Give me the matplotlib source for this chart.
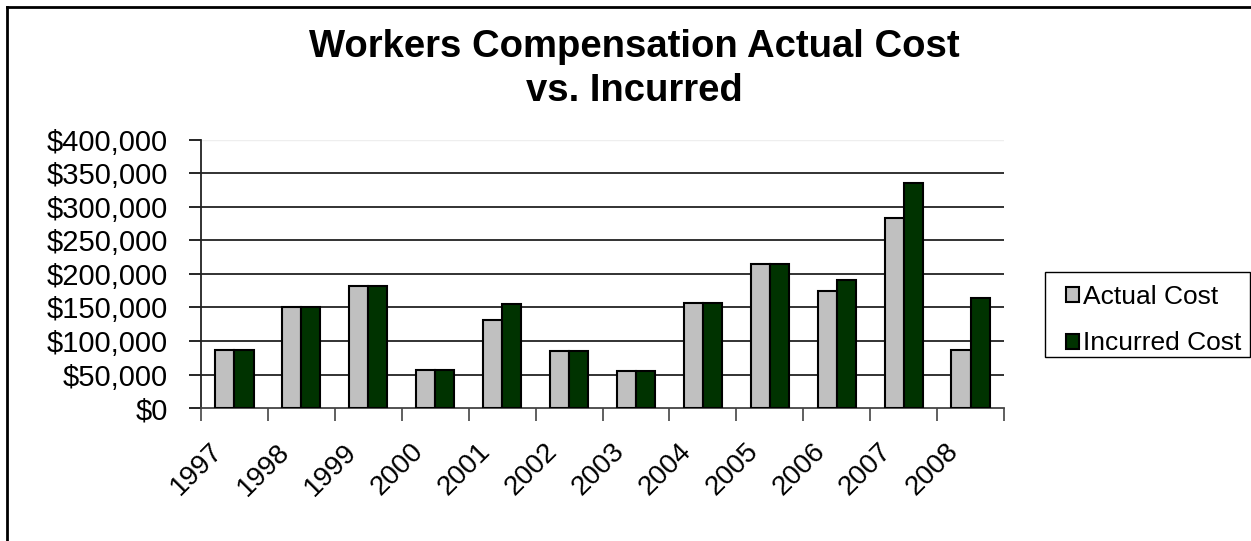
import matplotlib
matplotlib.use("Agg")
import matplotlib.pyplot as plt
from matplotlib.lines import Line2D
from matplotlib.patches import Rectangle
from matplotlib.ticker import FuncFormatter, FixedLocator
from matplotlib.transforms import ScaledTranslation
import numpy as np

years = ["1997", "1998", "1999", "2000", "2001", "2002", "2003", "2004",
         "2005", "2006", "2007", "2008"]
actual_cost = [87000, 150000, 181500, 57000, 130700, 85500, 55700, 156600,
               215000, 175000, 283000, 86500]
incurred_cost = [87000, 150000, 181500, 57000, 155600, 85500, 55700, 156600,
                 215000, 191000, 335500, 164000]
y_ticks = [0, 50000, 100000, 150000, 200000, 250000, 300000, 350000, 400000]

plt.rcParams['font.family'] = ['Liberation Sans', 'DejaVu Sans']

W, H = 1251, 541
fig = plt.figure(figsize=(W / 100, H / 100), dpi=100)
fig.patch.set_facecolor('white')

ax = fig.add_axes([201 / W, 1 - 408 / H, (1004 - 201) / W, (408 - 140) / H])

x = np.arange(len(years))
bw = 1 / 3.5
ax.bar(x - bw / 2, actual_cost, width=bw, color='#C0C0C0', edgecolor='black',
       linewidth=1.5, label='Actual Cost', zorder=3)
ax.bar(x + bw / 2, incurred_cost, width=bw, color='#003300', edgecolor='black',
       linewidth=1.5, label='Incurred Cost', zorder=3)

ax.set_xlim(-0.5, len(years) - 0.5)
ax.set_ylim(0, 400000)

for v in y_ticks[1:-1]:
    ax.axhline(v, color='#222222', linewidth=1.3, zorder=1)
ax.axhline(400000, color='#eeeeee', linewidth=1.0, zorder=1)

ax.yaxis.set_major_locator(FixedLocator(y_ticks))
ax.yaxis.set_major_formatter(FuncFormatter(lambda v, p: f"${int(v):,}"))
ax.tick_params(axis='y', direction='out', length=9, width=1.2, labelsize=21,
               pad=15, color='black')

# x: ticks at category boundaries, labels at centers
ax.set_xticks(np.arange(-0.5, len(years), 1.0))
ax.set_xticklabels([])
ax.set_xticks(x, minor=True)
ax.set_xticklabels(years, minor=True, rotation=45, ha='right', va='top',
                   rotation_mode='anchor', fontsize=20)
ax.tick_params(axis='x', which='major', direction='out', length=9, width=1.2,
               color='#444444')
ax.tick_params(axis='x', which='minor', length=0, pad=22)
shift = ScaledTranslation(-25 / 100, 0, fig.dpi_scale_trans)
for lbl in ax.get_xticklabels(minor=True):
    lbl.set_transform(lbl.get_transform() + shift)

for s in ['top', 'right']:
    ax.spines[s].set_visible(False)
ax.spines['left'].set_linewidth(1.3)
ax.spines['left'].set_color('#222222')
ax.spines['bottom'].set_linewidth(1.3)
ax.spines['bottom'].set_color('#444444')
ax.set_facecolor('white')

fig.text(634 / W, 1 - 69 / H, "Workers Compensation Actual Cost\nvs. Incurred",
         ha='center', va='center', fontsize=27.5, fontweight='bold',
         linespacing=1.32)

# legend box
fig.add_artist(Rectangle((1045 / W, 1 - 357 / H), (1250 - 1045) / W, 85 / H,
                         transform=fig.transFigure, facecolor='white',
                         edgecolor='black', linewidth=1.0, zorder=1))
leg = fig.legend(loc='upper left', bbox_to_anchor=(1066 / W, 1 - 285 / H),
                 fontsize=19, frameon=False, handlelength=0.5,
                 handleheight=0.5, handletextpad=0.15, labelspacing=0.85,
                 borderpad=0, borderaxespad=0)
leg.set_zorder(2)

# outer frame (left and top edges visible)
fig.add_artist(Line2D([7 / W, 7 / W], [0, 1 - 7 / H], transform=fig.transFigure,
                      color='black', linewidth=2))
fig.add_artist(Line2D([7 / W, 1], [1 - 7 / H, 1 - 7 / H], transform=fig.transFigure,
                      color='black', linewidth=2))

fig.savefig('out.png', dpi=100, facecolor='white')
